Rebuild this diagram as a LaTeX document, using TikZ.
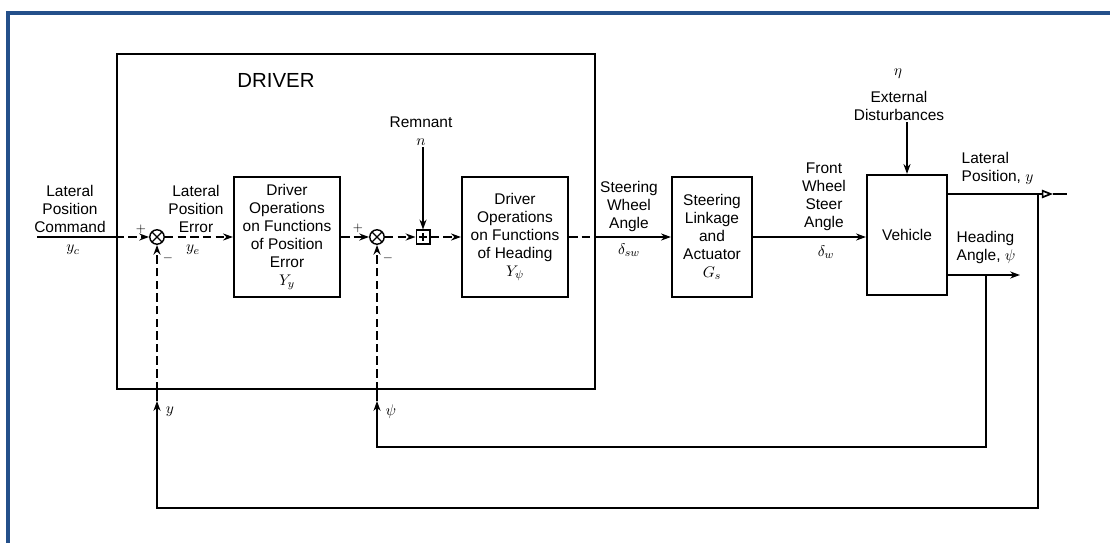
\documentclass[tikz,border=0pt]{standalone}
\usepackage{fontspec}
\setmainfont{Liberation Sans}
\usetikzlibrary{arrows.meta, positioning}
\definecolor{frameblue}{HTML}{24508A}

\begin{document}
\begin{tikzpicture}[
    x=0.025cm, y=-0.025cm,
    every node/.style={font=\fontsize{11}{12.8}\selectfont, align=center, inner sep=1pt},
    block/.style={rectangle, draw, line width=1.5pt, minimum width=2.65cm, minimum height=3.0cm, align=center},
    driverbox/.style={rectangle, draw, line width=1.7pt, minimum width=11.95cm, minimum height=8.375cm},
    sumnode/.style={circle, draw, line width=1pt, minimum size=0.36cm, inner sep=0pt,
        path picture={\draw[line width=0.8pt] (path picture bounding box.north west) -- (path picture bounding box.south east)
            (path picture bounding box.north east) -- (path picture bounding box.south west);}},
    plusnode/.style={rectangle, draw, line width=1pt, minimum size=0.34cm, inner sep=0pt,
        path picture={\draw[line width=0.8pt] ([yshift=-2pt]path picture bounding box.north) -- ([yshift=2pt]path picture bounding box.south)
            ([xshift=2pt]path picture bounding box.west) -- ([xshift=-2pt]path picture bounding box.east);}},
    sign/.style={font=\small, inner sep=0pt},
    wire/.style={line width=1.2pt},
    sig/.style={wire, -{Stealth[length=7pt, width=5pt]}},
    dwire/.style={wire, dash pattern=on 6pt off 3pt},
    dsig/.style={sig, dash pattern=on 6pt off 3pt}
]
    % Frame
    \useasboundingbox (0,0) rectangle (1110,543);
    \draw[frameblue, line width=2.2pt] (8,543) -- (8,13) -- (1110,13);

    % Driver
    \node[driverbox] (driver) at (356,221.5) {};
    \node[font=\fontsize{14.5}{16}\selectfont] (drvlbl) at (276,80) {DRIVER};

    % Blocks and summing points
    \node[sumnode] (sumy) at (157,237) {};
    \node[block] (posblk) at (287,237) {Driver\\Operations\\on Functions\\of Position\\Error\\$Y_y$};
    \node[sumnode] (sumpsi) at (377,237) {};
    \node[plusnode] (rem) at (423,237) {};
    \node[block] (headblk) at (515,237) {Driver\\Operations\\on Functions\\of Heading\\$Y_\psi$};
    \node[block, minimum width=2.0cm] (steer) at (712,237) {Steering\\Linkage\\and\\Actuator\\$G_s$};
    \node[block, minimum width=2.0cm] (veh) at (907,235) {Vehicle};

    % Labels
    \node (cmdlbl) at (70,209) {Lateral\\Position\\Command};
    \node (yclbl) at (73,250) {$y_c$};
    \node (errlbl) at (196,209) {Lateral\\Position\\Error};
    \node (yelbl) at (193,250) {$y_e$};
    \node (remlbl) at (421,131) {Remnant\\$n$};
    \node (swlbl) at (629,207) {Steering\\Wheel\\Angle};
    \node (dswlbl) at (629,250) {$\delta_{sw}$};
    \node (fwlbl) at (824,197) {Front\\Wheel\\Steer\\Angle};
    \node (dwlbl) at (826,252) {$\delta_w$};
    \node (etalbl) at (898,74) {$\eta$};
    \node (extlbl) at (899,106) {External\\Disturbances};
    \node[anchor=west, align=left] (latlbl) at (960,168) {Lateral\\Position, $y$};
    \node[anchor=west, align=left] (headlbl) at (955,248) {Heading\\Angle, $\psi$};
    \node[sign] (py) at (141,229) {$+$};
    \node[sign] (my) at (168,258) {$-$};
    \node[sign] (ppsi) at (358,228) {$+$};
    \node[sign] (mpsi) at (388,258) {$-$};
    \node (fylbl) at (170,412) {$y$};
    \node (fpsilbl) at (391,412) {$\psi$};

    % Helper coordinates
    \coordinate (inp) at (37,237);
    \coordinate (inedge) at (driver.west |- sumy);
    \coordinate (outedge) at (driver.east |- headblk);
    \coordinate (yout) at (947,194);
    \coordinate (yjct) at (1038,194);
    \coordinate (ytip) at (1053,194);
    \coordinate (yend) at (1067,194);
    \coordinate (hout) at (947,275);
    \coordinate (hjct) at (986,275);
    \coordinate (htip) at (1020,275);
    \coordinate (ftipy) at (157,401);
    \coordinate (ftippsi) at (377,401);

    % Forward path
    \draw[wire] (inp) -- (inedge);
    \draw[dsig] (inedge) -- (sumy);
    \draw[dsig] (sumy) -- (posblk);
    \draw[dsig] (posblk) -- (sumpsi);
    \draw[dsig] (sumpsi) -- (rem);
    \draw[dsig] (rem) -- (headblk);
    \draw[dwire] (headblk) -- (outedge);
    \draw[sig] (outedge) -- (steer);
    \draw[sig] (steer.east) -- (steer.east -| veh.west);
    \draw[sig] (rem.north |- remlbl.south) -- (rem.north);
    \draw[sig] (veh.north |- extlbl.south) -- (veh.north);

    % Outputs
    \draw[wire, -{Triangle[open, length=8pt, width=6pt]}] (yout) -- (ytip);
    \draw[wire] (ytip) -- (yend);
    \draw[sig] (hout) -- (htip);

    % Feedback loops
    \draw[sig] (yjct) -- ++(0,314) -| (ftipy);
    \draw[wire] (ftipy) -- (ftipy |- driver.south);
    \draw[dsig] (ftipy |- driver.south) -- (sumy);
    \draw[sig] (hjct) -- ++(0,172) -| (ftippsi);
    \draw[wire] (ftippsi) -- (ftippsi |- driver.south);
    \draw[dsig] (ftippsi |- driver.south) -- (sumpsi);
\end{tikzpicture}
\end{document}
